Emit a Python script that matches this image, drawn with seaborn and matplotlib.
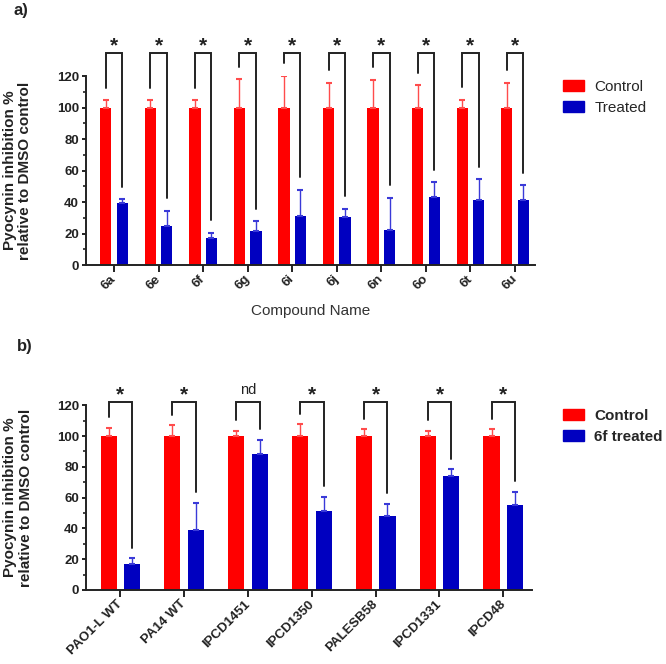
import pandas as pd
import seaborn as sns
import matplotlib.pyplot as plt
from matplotlib.ticker import MultipleLocator
from matplotlib.patches import Patch

# ---- Data ----
compounds = ["6a", "6e", "6f", "6g", "6i", "6j", "6n", "6o", "6t", "6u"]
control_a = [100, 100, 100, 100, 100, 100, 100, 100, 100, 100]
control_err_a = [4.5, 4.5, 4.5, 18, 20, 15.5, 17.5, 14, 5, 15.5]
treated_a = [39.5, 25, 17, 21.7, 31.2, 30.5, 22.5, 43, 41, 41.5]
treated_err_a = [2.3, 9.4, 3.6, 6.1, 16.7, 5.1, 20.2, 9.5, 13.5, 9]
sig_a = ["*"] * 10

strains = ["PAO1-L WT", "PA14 WT", "IPCD1451", "IPCD1350", "PALESB58", "IPCD1331", "IPCD48"]
control_b = [100, 100, 100, 100, 100, 100, 100]
control_err_b = [5.3, 7, 3.3, 7.6, 4.4, 3.3, 4.4]
treated_b = [16.7, 39, 88.4, 51.3, 48.3, 74.3, 55.4]
treated_err_b = [3.9, 17.7, 9.1, 9.3, 7.8, 4.1, 8.1]
sig_b = ["*", "*", "nd", "*", "*", "*", "*"]

RED = "#FF0000"
BLUE = "#0000C0"
RED_ERR = "#FF4C4C"
BLUE_ERR = "#3A3AD8"
INK = "#222222"

# ---- Style ----
sns.set_style("ticks")
plt.rcParams["font.family"] = ["Liberation Sans", "DejaVu Sans"]

fig = plt.figure(figsize=(6.66, 6.64), dpi=100)
W, H = 666, 664


def draw_panel(ax, names, ctrl, ctrl_err, trt, trt_err, sig, groups,
               xlim, top, leg_gap, star_y):
    df = pd.DataFrame({
        "name": names * 2,
        "group": [groups[0]] * len(names) + [groups[1]] * len(names),
        "value": ctrl + trt,
    })
    sns.barplot(data=df, x="name", y="value", hue="group", palette=[RED, BLUE],
                saturation=1, width=0.74, gap=0.32, errorbar=None,
                linewidth=0, legend=False, ax=ax)

    centers = []
    for cont, errs, col in zip(ax.containers, [ctrl_err, trt_err], [RED_ERR, BLUE_ERR]):
        xs = [b.get_x() + b.get_width() / 2 for b in cont]
        hs = [b.get_height() for b in cont]
        ax.errorbar(xs, hs, yerr=[[0] * len(errs), errs], fmt="none",
                    ecolor=col, elinewidth=1, capsize=2.5, capthick=1.5, zorder=1)
        centers.append(xs)

    # significance brackets
    for i in range(len(names)):
        xl, xr = centers[0][i], centers[1][i]
        yl = ctrl[i] + ctrl_err[i] + leg_gap
        yr = trt[i] + trt_err[i] + leg_gap
        ax.plot([xl, xl, xr, xr], [yl, top, top, yr], color=INK, lw=1.4,
                clip_on=False, solid_joinstyle="miter")
        if sig[i] == "*":
            ax.text((xl + xr) / 2, star_y, "*", ha="center", va="center",
                    fontsize=15, fontweight="bold", color=INK, clip_on=False)
        else:
            ax.text((xl + xr) / 2, star_y + 3, sig[i], ha="center", va="center",
                    fontsize=10.5, color=INK, clip_on=False)

    ax.set_xlim(*xlim)
    ax.set_ylim(0, 120)
    ax.yaxis.set_major_locator(MultipleLocator(20))
    ax.yaxis.set_minor_locator(MultipleLocator(10))
    sns.despine(ax=ax)
    for s in ["left", "bottom"]:
        ax.spines[s].set_linewidth(1.4)
        ax.spines[s].set_color(INK)
    ax.tick_params(axis="y", which="major", length=3.2, width=1.4, color=INK,
                   labelsize=9.5, pad=2)
    ax.tick_params(axis="y", which="minor", length=2, width=1.2, color=INK)
    ax.tick_params(axis="x", length=4.8, width=1.4, color=INK, labelsize=9.5, pad=4)
    for lab in ax.get_yticklabels():
        lab.set_fontweight("bold")
        lab.set_color(INK)
    for lab in ax.get_xticklabels():
        lab.set_fontweight("bold")
        lab.set_color(INK)
        lab.set_rotation(45)
        lab.set_ha("right")
        lab.set_va("center")
        lab.set_rotation_mode("anchor")
    ax.set_ylabel("Pyocynin inhibition %\nrelative to DMSO control",
                  fontsize=11, fontweight="bold", color=INK, linespacing=1.1)
    ax.yaxis.set_label_coords(-0.12, 0.5)


# ---- Panel a ----
ax_a = fig.add_axes([86 / W, 1 - 265 / H, 449 / W, 189 / H])
draw_panel(ax_a, compounds, control_a, control_err_a, treated_a, treated_err_a,
           sig_a, ["Control", "Treated"], (-0.63, 9.45), 134.4, 8, 139)
ax_a.set_xlabel("Compound Name", fontsize=11, color="#333333")
ax_a.xaxis.set_label_coords(0.5, -0.205)
ax_a.legend(handles=[Patch(color=RED, label="Control"), Patch(color=BLUE, label="Treated")],
            loc="upper left", bbox_to_anchor=(563 / W, 1 - 80 / H),
            bbox_transform=fig.transFigure, frameon=False, fontsize=11,
            handlelength=1.35, handleheight=0.75, handletextpad=0.7,
            labelspacing=0.45, borderpad=0, borderaxespad=0)

# ---- Panel b ----
ax_b = fig.add_axes([86 / W, 1 - 590 / H, 445.7 / W, 184.7 / H])
draw_panel(ax_b, strains, control_b, control_err_b, treated_b, treated_err_b,
           sig_b, ["Control", "6f treated"], (-0.54, 6.445), 122.3, 7, 127)
ax_b.set_xlabel("")
ax_b.legend(handles=[Patch(color=RED, label="Control"), Patch(color=BLUE, label="6f treated")],
            loc="upper left", bbox_to_anchor=(563 / W, 1 - 409 / H),
            bbox_transform=fig.transFigure, frameon=False,
            prop={"size": 11, "weight": "bold"},
            handlelength=1.35, handleheight=0.75, handletextpad=0.7,
            labelspacing=0.45, borderpad=0, borderaxespad=0)

fig.text(13 / W, 1 - 10 / H, "a)", fontsize=12, fontweight="bold", color=INK, va="center")
fig.text(17 / W, 1 - 347 / H, "b)", fontsize=12, fontweight="bold", color=INK, va="center")

fig.savefig("out.png", dpi=100)
plt.close(fig)
